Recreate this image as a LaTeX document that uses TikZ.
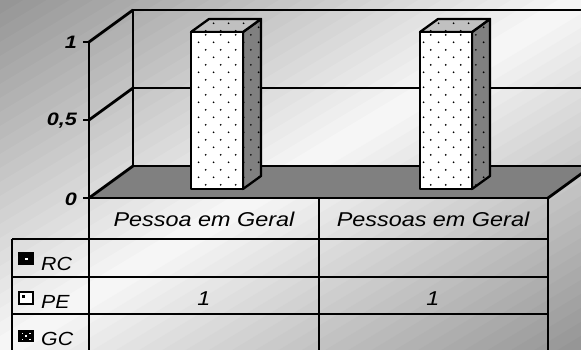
\documentclass[tikz,border=0pt]{standalone}
\usepackage{fontspec}
\setmainfont{Liberation Sans}
\usepackage{graphicx}
\usetikzlibrary{patterns.meta, calc}
\definecolor{floorgray}{RGB}{128, 128, 128}
\definecolor{topgray}{RGB}{192, 192, 192}
\definecolor{bgdark}{RGB}{148, 148, 148}
\definecolor{bglight}{RGB}{248, 248, 248}

\tikzdeclarepattern{
  name=bardots,
  type=uncolored,
  bottom left={(0pt,0pt)},
  top right={(15pt,15.4pt)},
  tile size={(15pt,15.4pt)},
  code={
    \fill (3.75pt,3.85pt) circle (1pt);
    \fill (11.25pt,11.55pt) circle (1pt);
  }
}

\tikzset{
  chartline/.style={line width=2.8pt, black},
  barface/.style={line width=2.3pt, draw=black, line join=round, postaction={pattern=bardots, pattern color=black}},
  cattext/.style={font=\fontsize{20}{23}\selectfont\itshape, anchor=base, inner sep=0pt},
  legtext/.style={font=\fontsize{19}{22}\selectfont\itshape, anchor=base west, inner sep=0pt},
  ticktext/.style={font=\fontsize{18}{21}\selectfont\bfseries\itshape, anchor=east, inner sep=0pt}
}

\begin{document}
\begin{tikzpicture}[x=1pt, y=-1pt]
  \useasboundingbox (0,0) rectangle (581,350);
  \clip (0,0) rectangle (581,350);
  % background, diagonal bands
  \begin{scope}[x=581pt, y=-350pt]
    \foreach \s in {0,1,...,49} {
      \pgfmathsetmacro{\sa}{\s/25}
      \pgfmathsetmacro{\sb}{(\s+1.4)/25}
      \pgfmathsetmacro{\lt}{100*(1-abs(\s+0.5-25)/25)}
      \fill[bglight!\lt!bgdark] (\sa,0) -- (\sb,0) -- (0,\sb) -- (0,\sa) -- cycle;
    }
  \end{scope}

  % floor
  \fill[floorgray] (89,198) -- (133,166) -- (592,166) -- (548,198) -- cycle;

  % walls and gridlines
  \draw[chartline] (133,166) -- (133,10) -- (581,10);
  \draw[chartline] (133,88) -- (581,88);
  \draw[chartline] (133,166) -- (592,166);
  \draw[chartline] (89,42) -- (133,10);
  \draw[chartline] (89,120) -- (133,88);
  \draw[chartline] (89,198) -- (133,166);
  \draw[chartline] (548,198) -- (592,166);

  % value axis
  \draw[chartline] (89,42) -- (89,350);
  \draw[chartline] (83,42) -- (89,42);
  \draw[chartline] (83,120) -- (89,120);
  \draw[chartline] (83,198) -- (89,198);
  \node[ticktext] (ytick1) at (77,42) {\scalebox{1.2}[1]{1}};
  \node[ticktext] (ytick05) at (77,121) {\scalebox{1.2}[1]{0,5}};
  \node[ticktext] (ytick0) at (77,199) {\scalebox{1.2}[1]{0}};

  % bar Pessoa em Geral
  \filldraw[barface, fill=floorgray] (243,189) -- (261,176) -- (261,19) -- (243,32) -- cycle;
  \filldraw[barface, fill=topgray] (191,32) -- (209,19) -- (261,19) -- (243,32) -- cycle;
  \filldraw[barface, fill=white] (191,32) rectangle (243,189);

  % bar Pessoas em Geral
  \filldraw[barface, fill=floorgray] (472,189) -- (490,176) -- (490,19) -- (472,32) -- cycle;
  \filldraw[barface, fill=topgray] (420,32) -- (438,19) -- (490,19) -- (472,32) -- cycle;
  \filldraw[barface, fill=white] (420,32) rectangle (472,189);

  % data table
  \draw[chartline] (89,198) -- (548,198);
  \draw[chartline] (12,239) -- (548,239);
  \draw[chartline] (12,277) -- (548,277);
  \draw[chartline] (12,314) -- (548,314);
  \draw[chartline] (12,239) -- (12,350);
  \draw[chartline] (319,198) -- (319,350);
  \draw[chartline] (548,198) -- (548,350);
  \node[cattext] (catA) at (204,226) {\scalebox{1.17}[1]{Pessoa em Geral}};
  \node[cattext] (catB) at (433,226) {\scalebox{1.17}[1]{Pessoas em Geral}};
  \node[cattext] (valA) at (204,305) {\scalebox{1.17}[1]{1}};
  \node[cattext] (valB) at (433,305) {\scalebox{1.17}[1]{1}};

  % legend keys
  \fill[black] (18,252) rectangle (34,265);
  \fill[white] (25,257.5) rectangle (27.5,259.5);
  \filldraw[line width=1.8pt, fill=white] (19,292) rectangle (33,304);
  \fill[black] (22,295) rectangle (24.5,297.5);
  \fill[black] (18,330) rectangle (34,342);
  \fill[white] (21.5,332.5) rectangle (23,334);
  \fill[white] (29,332.5) rectangle (30.5,334);
  \fill[white] (25.3,335.3) rectangle (26.8,336.8);
  \fill[white] (21.5,338.5) rectangle (23,340);
  \fill[white] (29,338.5) rectangle (30.5,340);
  \node[legtext] (legRC) at (41,270) {\scalebox{1.12}[1]{RC}};
  \node[legtext] (legPE) at (41,308) {\scalebox{1.12}[1]{PE}};
  \node[legtext] (legGC) at (41,345) {\scalebox{1.12}[1]{GC}};
\end{tikzpicture}
\end{document}
